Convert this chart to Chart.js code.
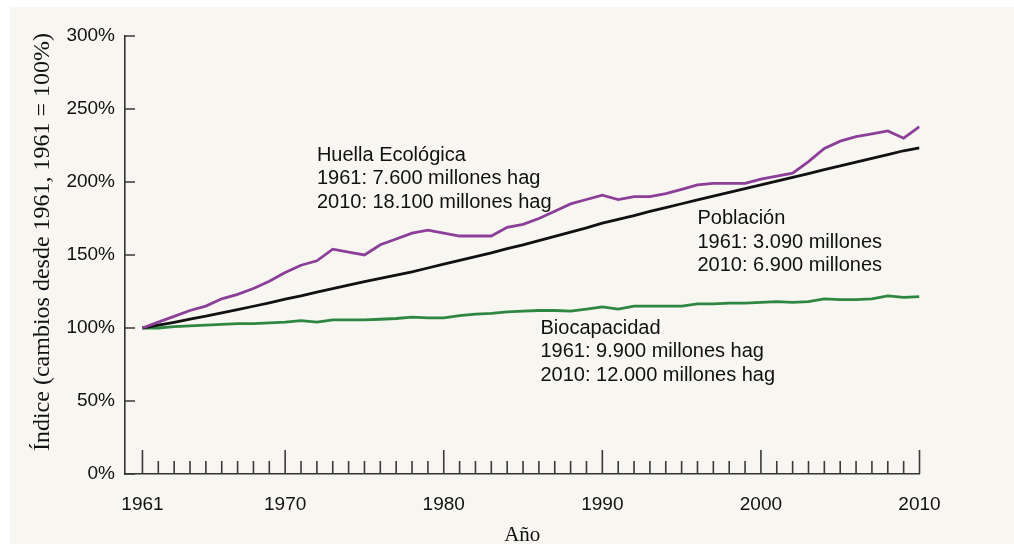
<!DOCTYPE html>
<html lang="es">
<head>
<meta charset="UTF-8">
<title>Huella Ecológica, Población y Biocapacidad</title>
<script src="https://cdn.jsdelivr.net/npm/chart.js"></script>
<style>
  body { margin: 0; background: #fff; overflow: hidden; }
  #bg { position: absolute; left: 10px; top: 7px; width: 1004px; height: 537px; background: #f8f6f1; }
  #wrap { position: absolute; left: 0; top: 0; width: 1014px; height: 544px; }
</style>
</head>
<body>
<div id="bg"></div>
<div id="wrap"><canvas id="chart"></canvas></div>

<script>
// years 1961..2010
const years = [];
for (let y = 1961; y <= 2010; y++) years.push(y);

const labelYears = [1961, 1970, 1980, 1990, 2000, 2010];
const yTicks = [0, 50, 100, 150, 200, 250, 300];

// index, 1961 = 100%
const huella = [
  100, 104, 108, 112, 115, 120, 123, 127, 132, 138,
  143, 146, 154, 152, 150, 157, 161, 165, 167, 165,
  163, 163, 163, 169, 171, 175, 180, 185, 188, 191,
  188, 190, 190, 192, 195, 198, 199, 199, 199, 202,
  204, 206, 214, 223, 228, 231, 233, 235, 230, 238
];
const poblacion = [
  100, 101.9, 103.9, 106.1, 108.1, 110.4, 112.6, 114.9, 117.2, 119.7,
  122.0, 124.6, 126.9, 129.4, 131.7, 134.0, 136.2, 138.5, 141.1, 143.7,
  146.3, 148.9, 151.5, 154.4, 157.0, 159.9, 162.8, 165.7, 168.6, 171.8,
  174.4, 177.0, 179.9, 182.5, 185.1, 187.7, 190.3, 192.9, 195.5, 198.1,
  200.6, 203.2, 205.8, 208.4, 211.0, 213.6, 216.2, 218.8, 221.4, 223.3
];
const biocapacidad = [
  100, 100, 101, 101.5, 102, 102.5, 103, 103, 103.5, 104,
  105, 104, 105.5, 105.5, 105.5, 106, 106.5, 107.5, 107, 107,
  108.5, 109.5, 110, 111, 111.5, 112, 112, 111.5, 113, 114.5,
  113, 115, 115, 115, 115, 116.5, 116.5, 117, 117, 117.5,
  118, 117.5, 118, 120, 119.5, 119.5, 120, 122, 121, 121.5
];

const notes = [
  { year: 1972, value: 214.5, lines: ['Huella Ecológica', '1961: 7.600 millones hag', '2010: 18.100 millones hag'] },
  { year: 1996, value: 171, lines: ['Población', '1961: 3.090 millones', '2010: 6.900 millones'] },
  { year: 1986.1, value: 96, lines: ['Biocapacidad', '1961: 9.900 millones hag', '2010: 12.000 millones hag'] }
];
const yTitle = 'Índice (cambios desde 1961, 1961 = 100%)';

const pts = arr => arr.map((v, i) => ({ x: years[i], y: v }));

// tick marks point into the plot, long ones on the labelled years; plus the text notes
const extras = {
  id: 'extras',
  afterDraw(chart) {
    const { ctx, scales: { x, y } } = chart;
    ctx.save();
    ctx.strokeStyle = '#3a3a3a';
    ctx.lineWidth = 1.6;
    ctx.beginPath();
    years.forEach(yr => {
      const px = x.getPixelForValue(yr);
      const len = labelYears.includes(yr) ? 24 : 13;
      ctx.moveTo(px, y.bottom);
      ctx.lineTo(px, y.bottom - len);
    });
    yTicks.forEach(v => {
      const py = y.getPixelForValue(v);
      ctx.moveTo(x.left, py);
      ctx.lineTo(x.left + 10, py);
    });
    ctx.stroke();

    ctx.fillStyle = '#111';
    ctx.font = '20px "Liberation Sans", Arial, sans-serif';
    ctx.textBaseline = 'alphabetic';
    ctx.textAlign = 'left';
    notes.forEach(n => {
      const px = x.getPixelForValue(n.year);
      const py = y.getPixelForValue(n.value);
      n.lines.forEach((t, i) => ctx.fillText(t, px, py + i * 23.5));
    });

    // y axis title, a bit above the middle of the axis like the original
    ctx.translate(43, 242);
    ctx.rotate(-Math.PI / 2);
    ctx.font = '24px "Liberation Serif", serif';
    ctx.textAlign = 'center';
    ctx.textBaseline = 'middle';
    ctx.fillText(yTitle, 0, 0);
    ctx.restore();
  }
};

new Chart(document.getElementById('chart'), {
  type: 'line',
  data: {
    datasets: [
      { label: 'Huella Ecológica', data: pts(huella), borderColor: '#8b3f98', borderWidth: 2.8 },
      { label: 'Población', data: pts(poblacion), borderColor: '#111111', borderWidth: 2.8 },
      { label: 'Biocapacidad', data: pts(biocapacidad), borderColor: '#2e8741', borderWidth: 2.8 }
    ]
  },
  options: {
    responsive: true,
    maintainAspectRatio: false,
    animation: false,
    elements: { point: { radius: 0 }, line: { tension: 0 } },
    layout: { padding: { left: 20, top: 36, right: 94.5, bottom: 0 } },
    plugins: { legend: { display: false }, tooltip: { enabled: false } },
    scales: {
      x: {
        type: 'linear',
        min: 1959.9,
        max: 2010,
        afterBuildTicks: s => { s.ticks = labelYears.map(v => ({ value: v })); },
        afterFit: s => { s.height = 70; },
        grid: { display: false, drawTicks: false },
        border: { display: true, color: '#333', width: 1.6 },
        ticks: {
          padding: 19,
          maxRotation: 0,
          autoSkip: false,
          color: '#111',
          font: { family: '"Liberation Sans", Arial, sans-serif', size: 19 },
          callback: v => String(v)
        },
        title: {
          display: true,
          text: 'Año',
          color: '#111',
          padding: { top: 0, bottom: -4 },
          font: { family: '"Liberation Serif", serif', size: 21 }
        }
      },
      y: {
        min: 0,
        max: 300,
        afterFit: s => { s.width = 105; },
        grid: { display: false, drawTicks: false },
        border: { display: true, color: '#333', width: 1.6 },
        ticks: {
          stepSize: 50,
          padding: 10,
          color: '#111',
          font: { family: '"Liberation Sans", Arial, sans-serif', size: 19 },
          callback: v => v + '%'
        }
      }
    }
  },
  plugins: [extras]
});
</script>
</body>
</html>
